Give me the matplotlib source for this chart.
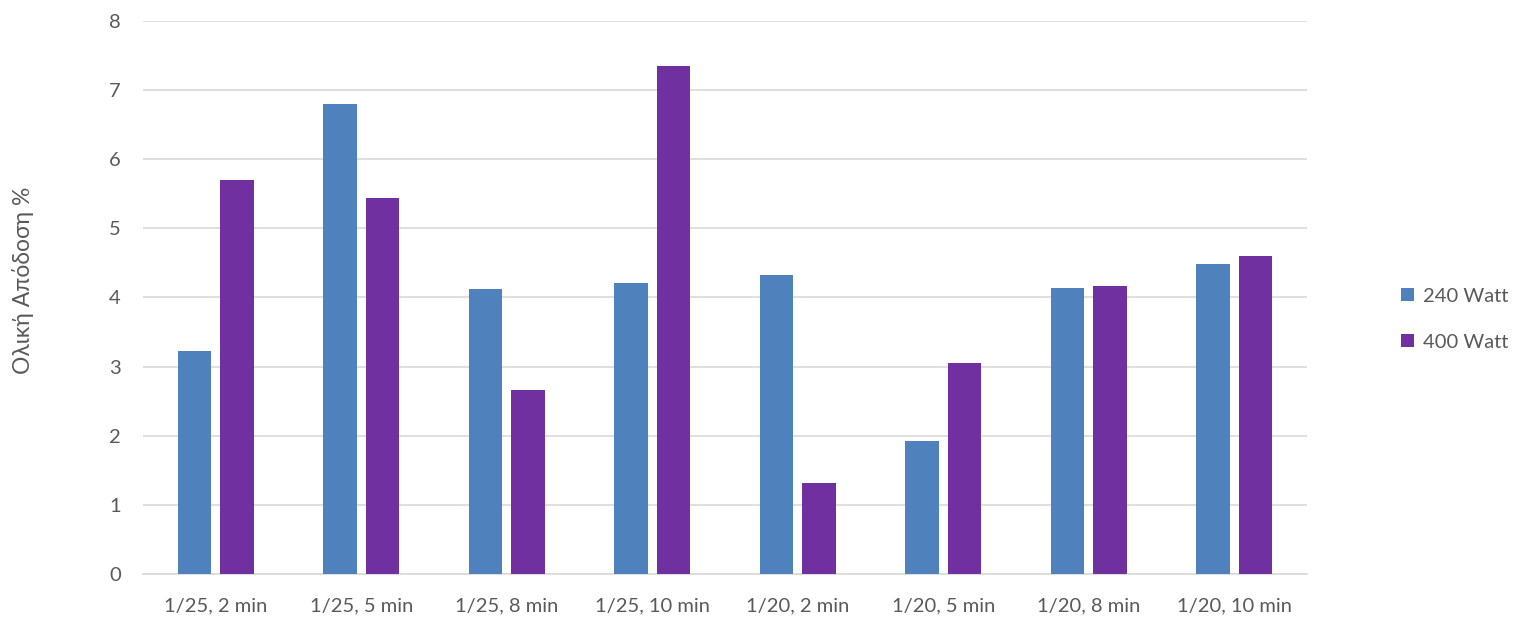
import numpy as np
import matplotlib
matplotlib.use("Agg")
import matplotlib.pyplot as plt
from matplotlib.patches import Patch

# data
categories = ["1/25, 2 min", "1/25, 5 min", "1/25, 8 min", "1/25, 10 min",
              "1/20, 2 min", "1/20, 5 min", "1/20, 8 min", "1/20, 10 min"]
watt_240 = [3.23, 6.80, 4.12, 4.21, 4.33, 1.93, 4.14, 4.48]
watt_400 = [5.70, 5.44, 2.66, 7.35, 1.32, 3.05, 4.17, 4.60]
series_names = ["240 Watt", "400 Watt"]
y_label = "Ολική Απόδοση %"

plt.rcParams["font.family"] = ["Lato", "Noto Sans", "DejaVu Sans"]
text_color = "#595959"
blue = "#4F81BD"
purple = "#7030A0"

fig = plt.figure(figsize=(15.15, 6.21), dpi=100)
ax = fig.add_axes([0.0944, 0.0757, 0.7683, 0.8905])

x = np.arange(len(categories))
w = 0.232
off = 0.146
ax.bar(x - off, watt_240, width=w, color=blue, zorder=3)
ax.bar(x + off, watt_400, width=w, color=purple, zorder=3)

ax.set_xlim(-0.5, len(categories) - 0.5)
ax.set_ylim(0, 8)
ax.set_yticks(range(0, 9))
ax.set_xticks(x)
ax.set_xticklabels(categories)
ax.grid(axis="y", color="#D9D9D9", linewidth=1.2, zorder=0)
for s in ["top", "right", "left"]:
    ax.spines[s].set_visible(False)
ax.spines["bottom"].set_color("#D9D9D9")
ax.spines["bottom"].set_linewidth(1.2)
ax.tick_params(axis="both", length=0, labelsize=14.5, colors=text_color)
ax.tick_params(axis="x", pad=17)
ax.tick_params(axis="y", pad=16)

fig.text(0.0152, 0.549, y_label, rotation=90, ha="center", va="center",
         fontsize=16.5, color=text_color)

handles = [Patch(facecolor=blue, label=series_names[0]),
           Patch(facecolor=purple, label=series_names[1])]
fig.legend(handles=handles, loc="center left", bbox_to_anchor=(0.913, 0.486),
           frameon=False, fontsize=14.5, labelcolor=text_color,
           handlelength=0.65, handleheight=0.65, handletextpad=0.45,
           labelspacing=1.45)

fig.savefig("out.png", dpi=100)
